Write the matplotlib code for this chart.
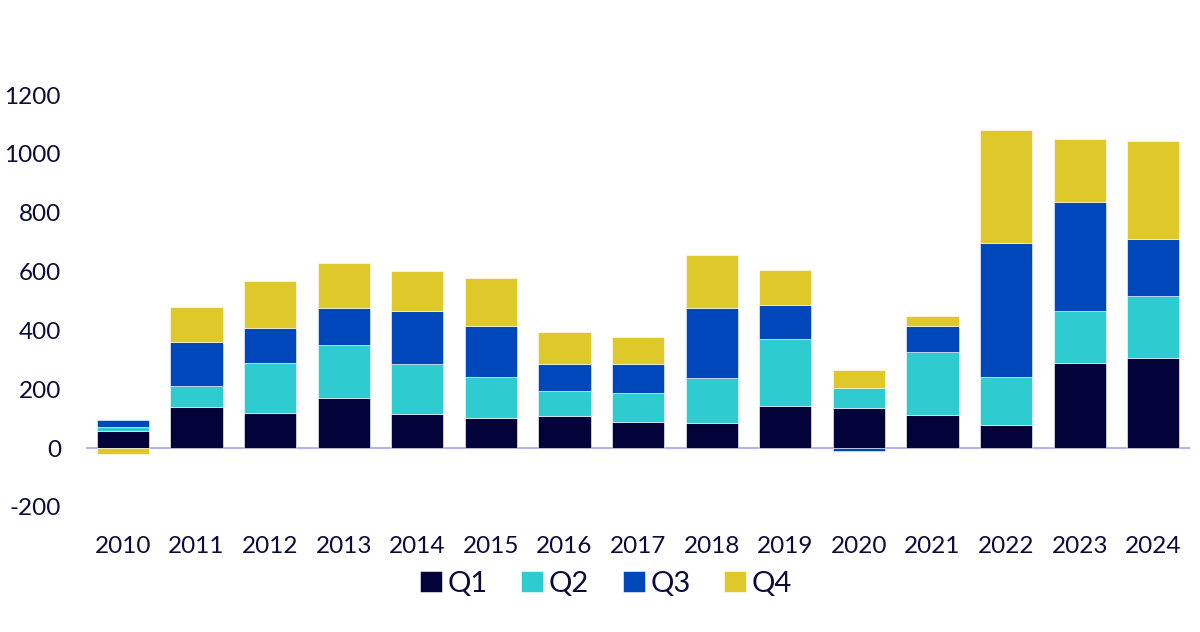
import numpy as np
import matplotlib.pyplot as plt
from matplotlib.ticker import FuncFormatter

# Данные
years = ['2010', '2011', '2012', '2013', '2014', '2015', '2016', '2017',
         '2018', '2019', '2020', '2021', '2022', '2023', '2024']
q1 = [58, 139, 121, 169, 117, 101, 109, 90, 84, 144, 138, 113, 79, 289, 305]
q2 = [13, 73, 170, 181, 170, 142, 85, 98, 153, 228, 65, 212, 162, 178, 213]
q3 = [23, 147, 118, 127, 178, 172, 91, 97, 240, 113, -11, 91, 457, 368, 194]
q4 = [-19, 121, 159, 152, 137, 163, 108, 94, 181, 120, 61, 33, 382, 216, 333]

series = {'Q1': q1, 'Q2': q2, 'Q3': q3, 'Q4': q4}
colors = {'Q1': '#03033a', 'Q2': '#2ecbd1', 'Q3': '#0047bb', 'Q4': '#dfc92a'}
text_color = '#0b0b3b'

plt.rcParams['font.family'] = ['Lato', 'DejaVu Sans']

fig = plt.figure(figsize=(12, 6.32), dpi=100)
ax = fig.add_axes([0.0717, 0.1978, 0.92, 0.745])

x = np.arange(len(years))
pos_bottom = np.zeros(len(years))
neg_bottom = np.zeros(len(years))

# Положительные и отрицательные значения складываем отдельно (как в Excel)
for name, vals in series.items():
    vals = np.array(vals, dtype=float)
    bottom = np.where(vals >= 0, pos_bottom, neg_bottom)
    ax.bar(x, vals, width=0.71, bottom=bottom, color=colors[name],
           edgecolor='white', linewidth=0.4, label=name, zorder=2)
    pos_bottom += np.where(vals >= 0, vals, 0)
    neg_bottom += np.where(vals < 0, vals, 0)

ax.axhline(0, color='#b4b4f0', linewidth=1.5, zorder=1)

ax.set_xlim(-0.5, len(years) - 0.5)
ax.set_ylim(-200, 1400)
ax.set_yticks([-200, 0, 200, 400, 600, 800, 1000, 1200])
ax.yaxis.set_major_formatter(FuncFormatter(lambda v, p: '%d' % v))
ax.set_xticks(x)
ax.set_xticklabels(years)

for s in ax.spines.values():
    s.set_visible(False)
ax.tick_params(axis='both', length=0, labelsize=17.5, colors=text_color)
ax.tick_params(axis='y', pad=18)
ax.tick_params(axis='x', pad=21)

leg = fig.legend(loc='center', bbox_to_anchor=(0.505, 0.076), ncol=4,
                 frameon=False, fontsize=21, handlelength=0.75, handleheight=0.75,
                 handletextpad=0.2, columnspacing=1.15, labelcolor=text_color)

fig.savefig('out.png', dpi=100)
